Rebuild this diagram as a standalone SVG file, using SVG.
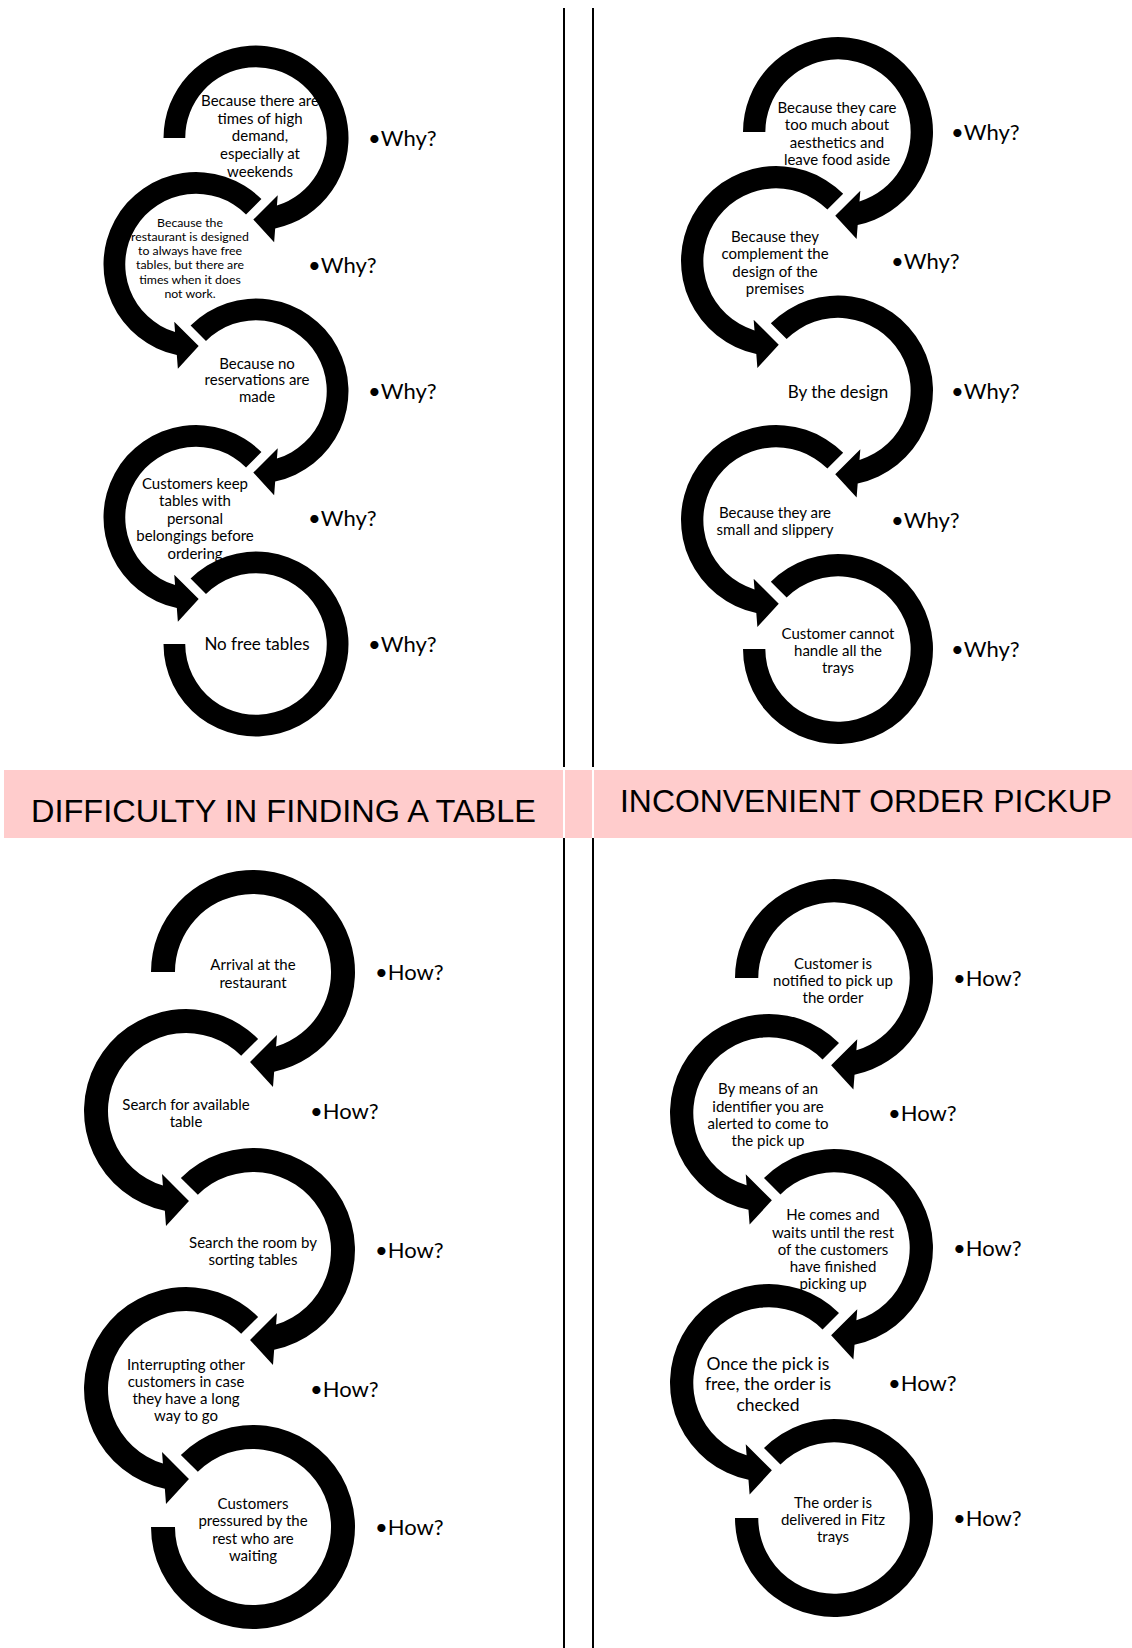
<svg xmlns="http://www.w3.org/2000/svg" xmlns:xlink="http://www.w3.org/1999/xlink" width="1132" height="1648" viewBox="0 0 1132 1648">
<style>
.ring{fill:#000}
.t{font-family:Lato,"Open Sans",sans-serif;font-size:15px;text-anchor:middle;fill:#000}
.ts{font-size:12.3px}
.tl{font-size:17.5px}
.tb{font-size:17px}
.q{font-family:Lato,"Open Sans",sans-serif;font-size:22px;fill:#000}
.title{font-family:"Liberation Sans",Arial,sans-serif;font-size:32px;fill:#000}
.div{stroke:#000;stroke-width:2}
.gap{stroke:#fff;stroke-width:2}
</style>
<defs>
<path id="aStart" d="M -100 0 A 100 100 0 1 1 20.74 97.84 L 19.6 112.7 L -2.9 88.2 L 23.5 61.8 L 22.63 73.1 A 76.5 76.5 0 1 0 -76.5 0 Z"/>
<path id="aMid" d="M -70.71 -70.71 A 100 100 0 1 1 20.74 97.84 L 19.6 112.7 L -2.9 88.2 L 23.5 61.8 L 22.63 73.1 A 76.5 76.5 0 1 0 -54.09 -54.09 Z"/>
<path id="aEnd" d="M -70.71 -70.71 A 100 100 0 1 1 -100 0 L -76.5 0 A 76.5 76.5 0 1 0 -54.09 -54.09 Z"/>
</defs>
<rect width="1132" height="1648" fill="#fff"/>

<g id="dividers">
<line class="div" x1="564" y1="8" x2="564" y2="767"/>
<line class="div" x1="593" y1="8" x2="593" y2="767"/>
<line class="div" x1="564" y1="838" x2="564" y2="1648"/>
<line class="div" x1="593" y1="838" x2="593" y2="1648"/>
</g>

<g id="header">
<rect x="4" y="770" width="1128" height="68" fill="#FFCCCC"/>
<line class="gap" x1="564" y1="770" x2="564" y2="838"/>
<line class="gap" x1="593" y1="770" x2="593" y2="838"/>
<text class="title" x="31" y="822" textLength="505" lengthAdjust="spacingAndGlyphs">DIFFICULTY IN FINDING A TABLE</text>
<text class="title" x="620" y="812" textLength="492" lengthAdjust="spacingAndGlyphs">INCONVENIENT ORDER PICKUP</text>
</g>

<g id="connectors"></g>

<!-- Top-left: Why? -->
<g id="tl1">
<use href="#aStart" class="ring" transform="translate(256,138) scale(0.925)"/>
<text class="t"><tspan x="260" y="106">Because there are</tspan><tspan x="260" y="123.7">times of high</tspan><tspan x="260" y="141.3">demand,</tspan><tspan x="260" y="159">especially at</tspan><tspan x="260" y="176.6">weekends</tspan></text>
<text class="q" x="368" y="146">•Why?</text>
</g>
<g id="tl2">
<use href="#aMid" class="ring" transform="translate(196,264.5) scale(-0.925,0.925)"/>
<text class="t ts"><tspan x="190" y="226.7">Because the</tspan><tspan x="190" y="240.9">restaurant is designed</tspan><tspan x="190" y="255.1">to always have free</tspan><tspan x="190" y="269.3">tables, but there are</tspan><tspan x="190" y="283.5">times when it does</tspan><tspan x="190" y="297.7">not work.</tspan></text>
<text class="q" x="308" y="272.5">•Why?</text>
</g>
<g id="tl3">
<use href="#aMid" class="ring" transform="translate(256,391) scale(0.925)"/>
<text class="t"><tspan x="257" y="368.5">Because no</tspan><tspan x="257" y="385.2">reservations are</tspan><tspan x="257" y="401.9">made</tspan></text>
<text class="q" x="368" y="399">•Why?</text>
</g>
<g id="tl4">
<use href="#aMid" class="ring" transform="translate(196,517.5) scale(-0.925,0.925)"/>
<text class="t"><tspan x="195" y="488.5">Customers keep</tspan><tspan x="195" y="506">tables with</tspan><tspan x="195" y="523.5">personal</tspan><tspan x="195" y="541">belongings before</tspan><tspan x="195" y="558.5">ordering</tspan></text>
<text class="q" x="308" y="525.5">•Why?</text>
</g>
<g id="tl5">
<use href="#aEnd" class="ring" transform="translate(256,644) scale(0.925)"/>
<text class="t tb" x="257" y="650">No free tables</text>
<text class="q" x="368" y="652">•Why?</text>
</g>

<!-- Top-right: Why? -->
<g id="tr1">
<use href="#aStart" class="ring" transform="translate(838,132) scale(0.95)"/>
<text class="t"><tspan x="837" y="112.5">Because they care</tspan><tspan x="837" y="130">too much about</tspan><tspan x="837" y="147.5">aesthetics and</tspan><tspan x="837" y="165">leave food aside</tspan></text>
<text class="q" x="951" y="140">•Why?</text>
</g>
<g id="tr2">
<use href="#aMid" class="ring" transform="translate(776,261) scale(-0.95,0.95)"/>
<text class="t"><tspan x="775" y="241.8">Because they</tspan><tspan x="775" y="259.3">complement the</tspan><tspan x="775" y="276.8">design of the</tspan><tspan x="775" y="294.3">premises</tspan></text>
<text class="q" x="891" y="269">•Why?</text>
</g>
<g id="tr3">
<use href="#aMid" class="ring" transform="translate(838,390.5) scale(0.95)"/>
<text class="t tb" x="838" y="397.5">By the design</text>
<text class="q" x="951" y="398.5">•Why?</text>
</g>
<g id="tr4">
<use href="#aMid" class="ring" transform="translate(776,520) scale(-0.95,0.95)"/>
<text class="t"><tspan x="775" y="517.5">Because they are</tspan><tspan x="775" y="535">small and slippery</tspan></text>
<text class="q" x="891" y="528">•Why?</text>
</g>
<g id="tr5">
<use href="#aEnd" class="ring" transform="translate(838,649) scale(0.95)"/>
<text class="t"><tspan x="838" y="638.5">Customer cannot</tspan><tspan x="838" y="655.5">handle all the</tspan><tspan x="838" y="672.5">trays</tspan></text>
<text class="q" x="951" y="657">•Why?</text>
</g>

<!-- Bottom-left: How? -->
<g id="bl1">
<use href="#aStart" class="ring" transform="translate(253,972) scale(1.02)"/>
<text class="t"><tspan x="253" y="970.2">Arrival at the</tspan><tspan x="253" y="987.5">restaurant</tspan></text>
<text class="q" x="375" y="980">•How?</text>
</g>
<g id="bl2">
<use href="#aMid" class="ring" transform="translate(186,1111) scale(-1.02,1.02)"/>
<text class="t"><tspan x="186" y="1109.5">Search for available</tspan><tspan x="186" y="1126.8">table</tspan></text>
<text class="q" x="310" y="1119">•How?</text>
</g>
<g id="bl3">
<use href="#aMid" class="ring" transform="translate(253,1250) scale(1.02)"/>
<text class="t"><tspan x="253" y="1247.5">Search the room by</tspan><tspan x="253" y="1264.8">sorting tables</tspan></text>
<text class="q" x="375" y="1258">•How?</text>
</g>
<g id="bl4">
<use href="#aMid" class="ring" transform="translate(186,1389) scale(-1.02,1.02)"/>
<text class="t"><tspan x="186" y="1369.5">Interrupting other</tspan><tspan x="186" y="1386.8">customers in case</tspan><tspan x="186" y="1404.1">they have a long</tspan><tspan x="186" y="1421.4">way to go</tspan></text>
<text class="q" x="310" y="1397">•How?</text>
</g>
<g id="bl5">
<use href="#aEnd" class="ring" transform="translate(253,1527) scale(1.02)"/>
<text class="t"><tspan x="253" y="1508.5">Customers</tspan><tspan x="253" y="1526">pressured by the</tspan><tspan x="253" y="1543.5">rest who are</tspan><tspan x="253" y="1561">waiting</tspan></text>
<text class="q" x="375" y="1535">•How?</text>
</g>

<!-- Bottom-right: How? -->
<g id="br1">
<use href="#aStart" class="ring" transform="translate(834,978) scale(0.99)"/>
<text class="t"><tspan x="833" y="968.5">Customer is</tspan><tspan x="833" y="985.7">notified to pick up</tspan><tspan x="833" y="1002.9">the order</tspan></text>
<text class="q" x="953" y="986">•How?</text>
</g>
<g id="br2">
<use href="#aMid" class="ring" transform="translate(769,1113) scale(-0.99,0.99)"/>
<text class="t"><tspan x="768" y="1094.2">By means of an</tspan><tspan x="768" y="1111.5">identifier you are</tspan><tspan x="768" y="1128.8">alerted to come to</tspan><tspan x="768" y="1146.1">the pick up</tspan></text>
<text class="q" x="888" y="1121">•How?</text>
</g>
<g id="br3">
<use href="#aMid" class="ring" transform="translate(834,1248) scale(0.99)"/>
<text class="t"><tspan x="833" y="1220.2">He comes and</tspan><tspan x="833" y="1237.5">waits until the rest</tspan><tspan x="833" y="1254.8">of the customers</tspan><tspan x="833" y="1272.1">have finished</tspan><tspan x="833" y="1289.4">picking up</tspan></text>
<text class="q" x="953" y="1256">•How?</text>
</g>
<g id="br4">
<use href="#aMid" class="ring" transform="translate(769,1383) scale(-0.99,0.99)"/>
<text class="t tl"><tspan x="768" y="1369.5">Once the pick is</tspan><tspan x="768" y="1390.3">free, the order is</tspan><tspan x="768" y="1411.1">checked</tspan></text>
<text class="q" x="888" y="1391">•How?</text>
</g>
<g id="br5">
<use href="#aEnd" class="ring" transform="translate(834,1518) scale(0.99)"/>
<text class="t"><tspan x="833" y="1507.5">The order is</tspan><tspan x="833" y="1524.8">delivered in Fitz</tspan><tspan x="833" y="1542.1">trays</tspan></text>
<text class="q" x="953" y="1526">•How?</text>
</g>
</svg>
